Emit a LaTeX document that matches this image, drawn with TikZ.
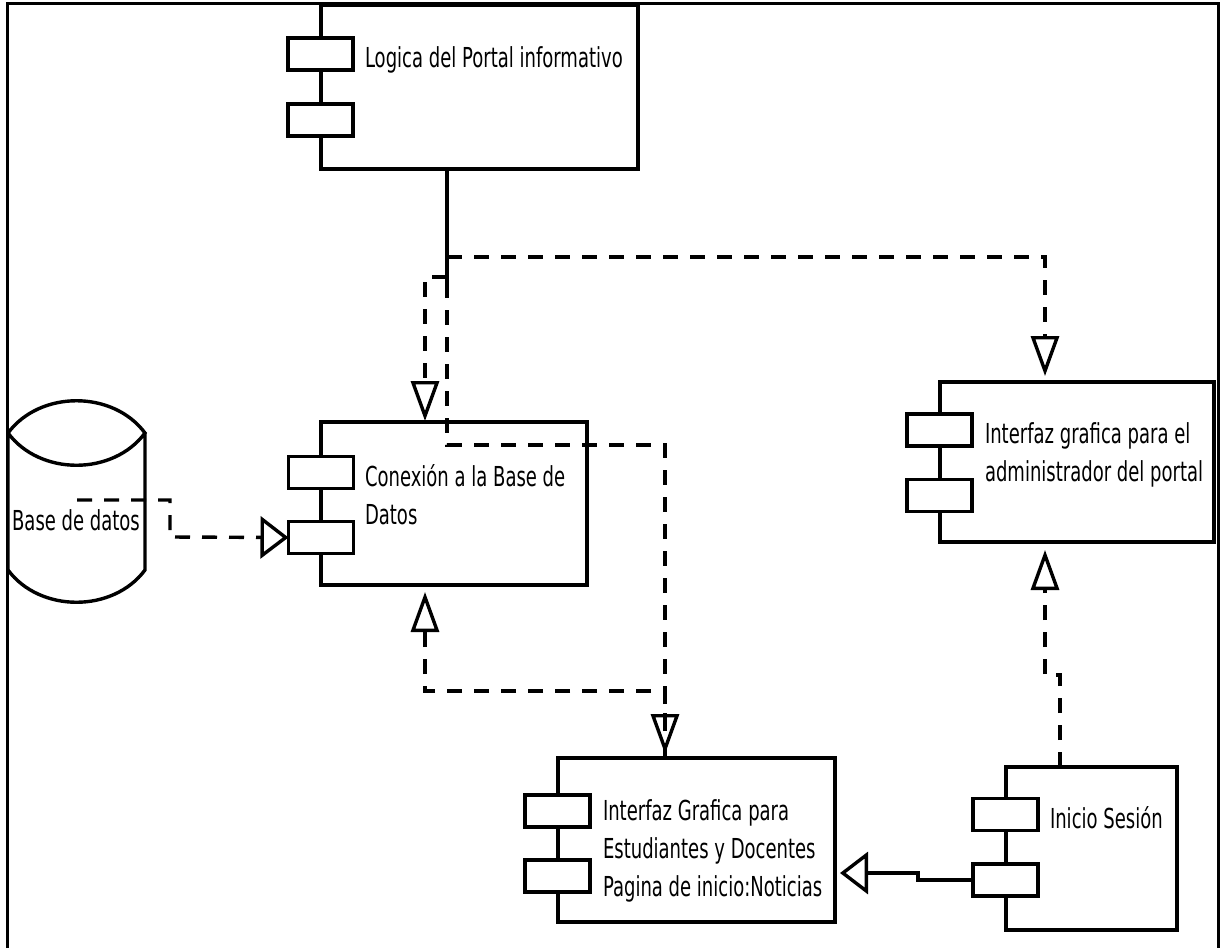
\documentclass[tikz,border=0pt]{standalone}
\usepackage{fontspec}
\newfontfamily\lblfont{DejaVu Sans}[FakeStretch=0.655]
\usetikzlibrary{arrows.meta,calc}

\begin{document}
\begin{tikzpicture}[x=1pt,y=-1pt,
  every node/.style={inner sep=0pt, outer sep=0pt},
  compbox/.style={draw, line width=3.4pt, rectangle},
  port/.style={draw, line width=3.4pt, fill=white, rectangle,
    minimum width=65pt, minimum height=32pt},
  lbl/.style={font=\lblfont\fontsize{27.5}{38}\selectfont, align=left, anchor=base west},
  thick line/.style={line width=3.4pt},
  dep/.style={line width=3.4pt, dash pattern=on 15pt off 12pt},
  vtip/.style={-{Triangle[open, length=40pt, width=28pt]}, shorten >=4pt},
  htip/.style={-{Triangle[open, length=28pt, width=42pt]}},
]
\useasboundingbox (0,0) rectangle (1220,948);

% page frame
\draw[line width=3pt] (7,948) -- (7,3) -- (1218,3) -- (1218,948);

% components
\node[compbox, minimum width=317pt, minimum height=164pt] (logica) at (479.5,87) {};
\node[compbox, minimum width=266pt, minimum height=163pt] (conex) at (454,503.5) {};
\node[compbox, minimum width=274pt, minimum height=160pt] (admin) at (1077,462) {};
\node[compbox, minimum width=277pt, minimum height=164pt] (estud) at (696.5,840) {};
\node[compbox, minimum width=171pt, minimum height=163pt] (inicio) at (1091.5,848.5) {};

% component ports
\node[port] (logica-p1) at (320.5,54) {};
\node[port] (logica-p2) at (320.5,120) {};
\node[port] (conex-p1) at (321,472.5) {};
\node[port] (conex-p2) at (321,537.5) {};
\node[port] (admin-p1) at (939.5,430) {};
\node[port] (admin-p2) at (939.5,495.5) {};
\node[port] (estud-p1) at (557.5,811) {};
\node[port] (estud-p2) at (557.5,876) {};
\node[port] (inicio-p1) at (1005.5,814.5) {};
\node[port] (inicio-p2) at (1005.5,880) {};

% database
\draw[thick line] (8,433) .. controls (40,390) and (113,390) .. (145,433)
  .. controls (113,476) and (40,476) .. (8,433) -- (8,570)
  .. controls (40,613) and (113,613) .. (145,570) -- (145,433);
\node[lbl, anchor=base] (db) at (76,530) {Base de datos};

% labels (the base anchor sits on the last line)
\node[lbl] (logica-t) at (365,67) {Logica del Portal informativo};
\node[lbl] (conex-t) at (365,524) {Conexión a la Base de\\Datos};
\node[lbl] (admin-t) at (985,481) {Interfaz grafica para el\\administrador del portal};
\node[lbl] (estud-t) at (603,896) {Interfaz Grafica para\\Estudiantes y Docentes\\Pagina de inicio:Noticias};
\node[lbl] (inicio-t) at (1050,828) {Inicio Sesión};

% junctions of the dependency lines
\coordinate (j1) at (447,257);
\coordinate (j2) at (447,277);
\coordinate (j3) at (447,283);
\coordinate (j4) at (665,445);
\coordinate (j5) at (425,691);
\coordinate (j6) at (1060,675);
\coordinate (j7) at (1045,675);
\coordinate (j8) at (918,880);
\coordinate (j9) at (918,873);
\coordinate (dbsrc) at (77,500);
\coordinate (dbbend) at (170,537);
\coordinate (ax) at (1045,0);
\coordinate (cx) at (425,0);

% dependencies from the portal logic
\draw[thick line] (logica.south -| j1) -- (j3);
\draw[dep, vtip, shorten >=6pt] (j1) -| (admin.north -| ax);
\draw[dep, vtip, shorten >=1pt] (j2) -| (conex.north -| cx);
\draw[dep, vtip] (j3) |- (j4) -- (estud.north -| j4);

% other dependencies
\draw[dep, htip] (dbsrc) -| (dbbend) -- (conex-p2.west);
\draw[dep, vtip, shorten >=7pt] (estud.north -| j4) |- (j5) -- (conex.south -| j5);
\draw[dep, vtip, shorten >=8pt] (inicio.north -| j6) -- (j6) -- (j7) -- (admin.south -| j7);
\draw[thick line, htip, shorten >=5pt] (inicio-p2.west) -- (j8) -- (j9) -- (estud.east |- j9);
\end{tikzpicture}
\end{document}
